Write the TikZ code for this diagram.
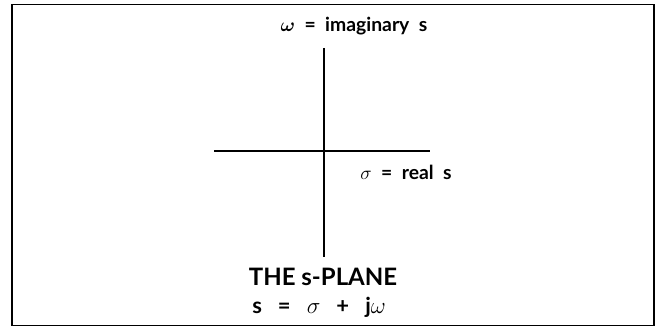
\documentclass[tikz,border=0pt]{standalone}
\usepackage{fontspec}
\setmainfont{Lato}
\begin{document}
\begin{tikzpicture}[x=0.75pt,y=-0.75pt,
  frame/.style={line width=1.1pt},
  axis/.style={line width=1.5pt},
  lbl/.style={inner sep=0pt,font=\bfseries\fontsize{14.5}{17}\selectfont},
  title/.style={inner sep=0pt,font=\bfseries\fontsize{18}{21}\selectfont},
  eqn/.style={inner sep=0pt,font=\bfseries\fontsize{16.5}{19}\selectfont}]
\useasboundingbox (0,0) rectangle (663,327);
\draw[frame] (12,4.5) rectangle (654,325.5);
\coordinate (vt) at (324,48);
\coordinate (vb) at (324,257);
\coordinate (hl) at (214,151.5);
\coordinate (hr) at (430,151.5);
\draw[axis] (vt) -- (vb);
\draw[axis] (hl) -- (hr);
\node[lbl,font=\bfseries\boldmath\fontsize{14.5}{17}\selectfont] (im) at (354,26) {$\omega$\ \ =\ \ imaginary\ \ s};
\node[lbl] (re) at (406,172) {$\sigma$\ \ =\ \ real\ \ s};
\node[title] (tt) at (323,277) {THE\ s-PLANE};
\node[eqn] (eq) at (319,307) {s\ \ \ =\ \ \ $\sigma$\ \ \ +\ \ \ j$\omega$};
\end{tikzpicture}
\end{document}
